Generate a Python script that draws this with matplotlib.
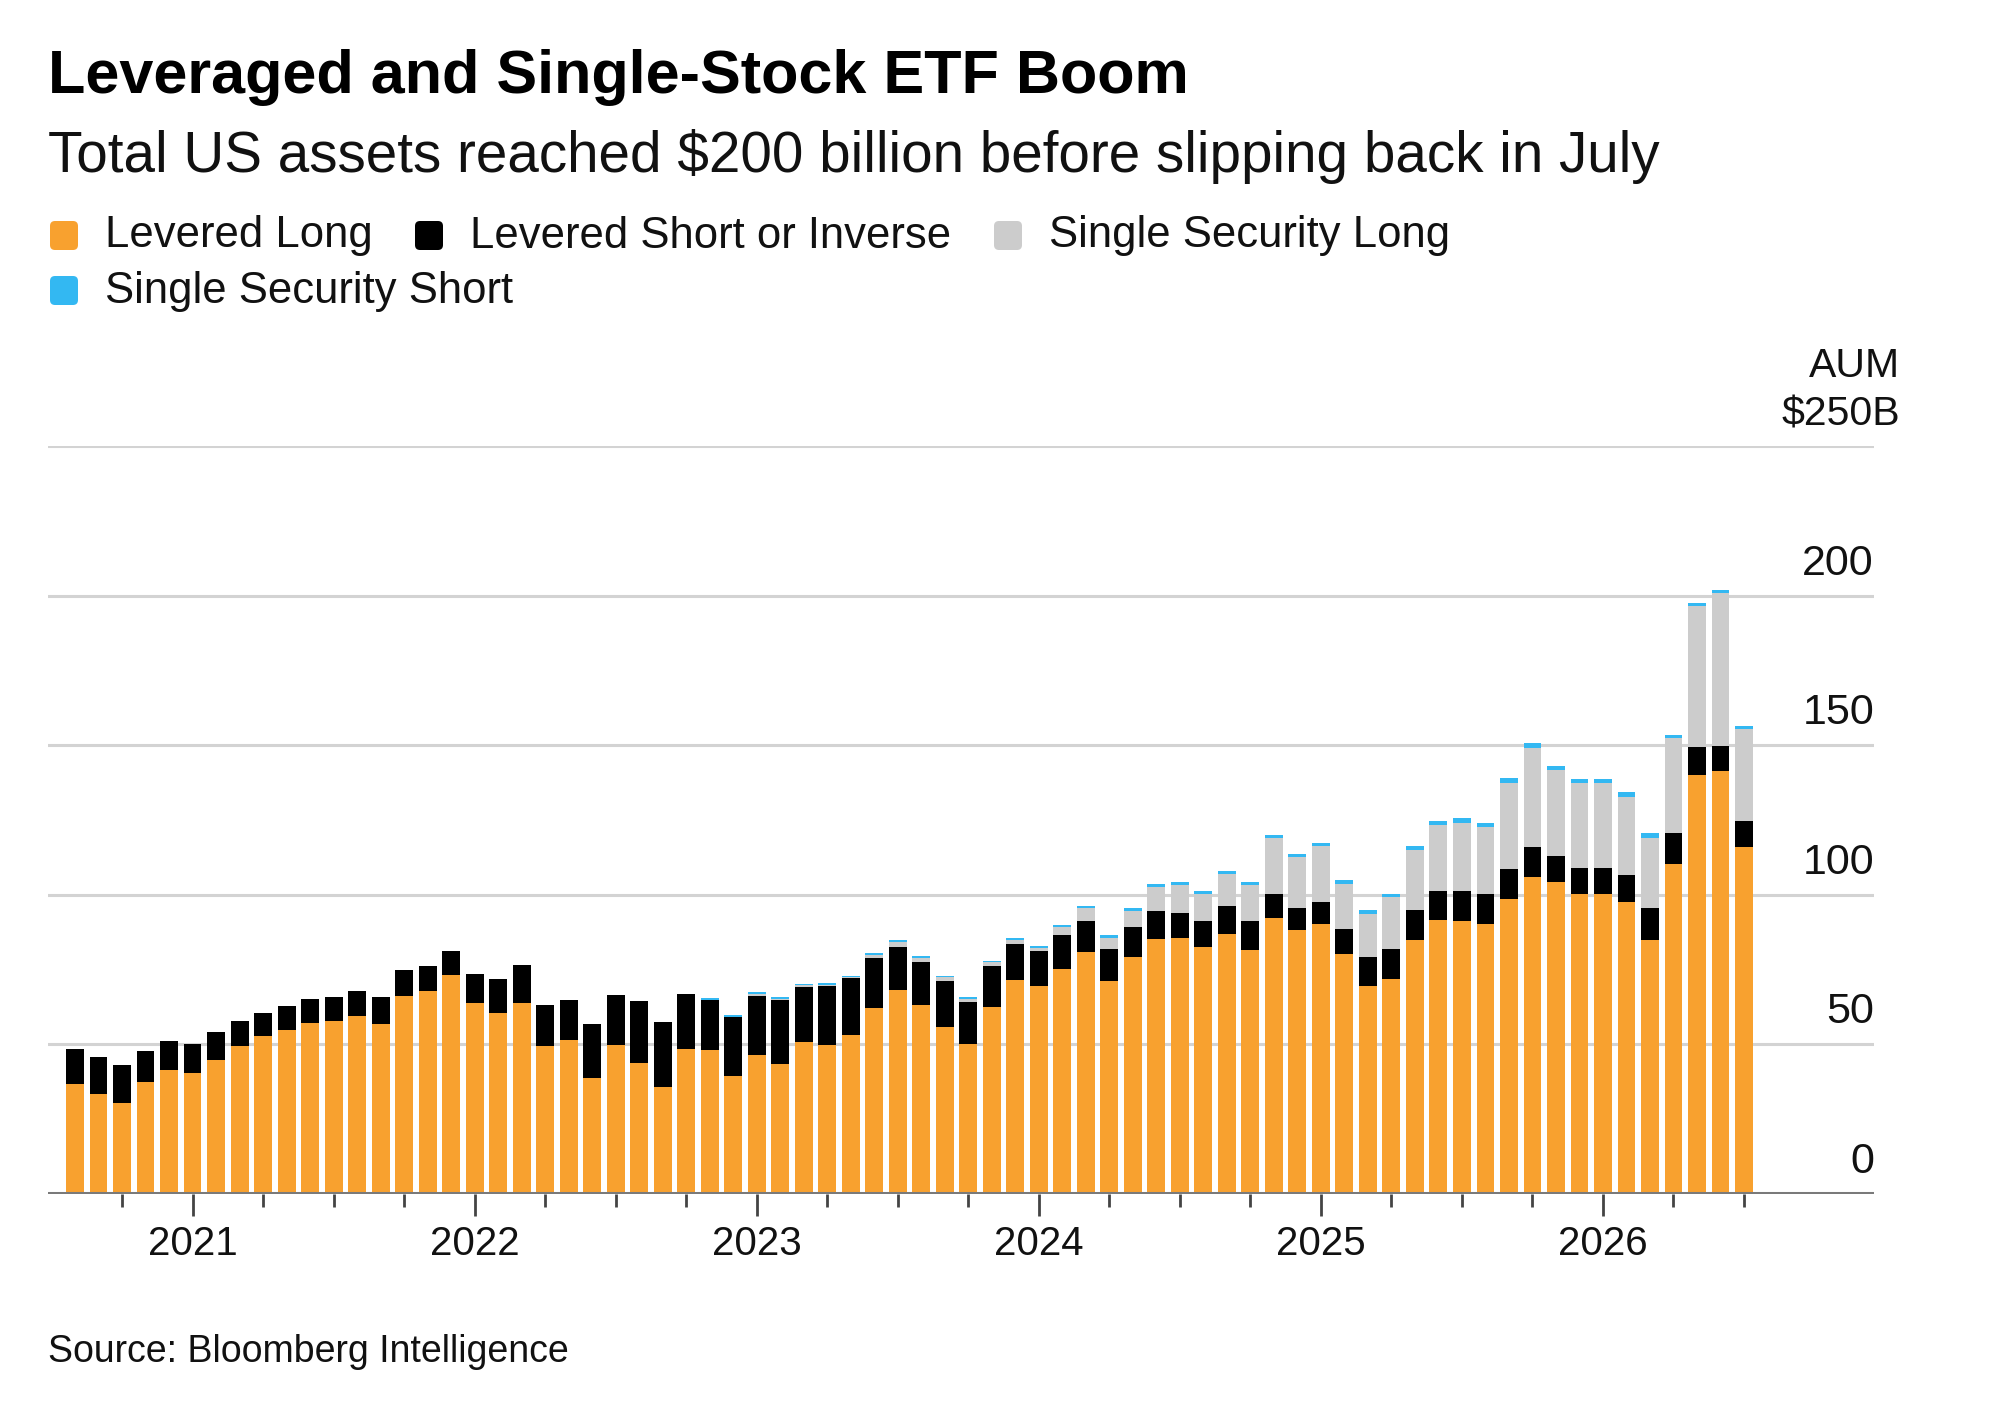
import matplotlib
matplotlib.use("Agg")
import matplotlib.pyplot as plt
import matplotlib.transforms as mtransforms
from matplotlib.patches import FancyBboxPatch
import numpy as np
import pandas as pd

plt.rcParams['font.family'] = ['Liberation Sans', 'DejaVu Sans']

# monthly AUM, $B, Aug 2020 .. Jul 2026
months = pd.date_range('2020-08-01', periods=72, freq='MS')

levered_long = [
    36.7, 33.4, 30.5, 37.6, 41.4, 40.3, 44.8, 49.5, 52.9, 54.7,
    57.2, 57.8, 59.6, 56.7, 66.3, 67.9, 73.3, 63.8, 60.6, 64.0,
    49.4, 51.4, 38.7, 49.7, 43.8, 35.6, 48.6, 48.1, 39.6, 46.4,
    43.5, 50.8, 49.7, 53.3, 62.3, 68.3, 63.2, 55.8, 50.2, 62.6,
    71.5, 69.6, 75.3, 80.9, 71.1, 79.2, 85.1, 85.6, 82.4, 87.0,
    81.7, 92.2, 88.4, 90.1, 80.2, 69.6, 72.0, 85.0, 91.6, 91.2,
    90.2, 98.6, 105.8, 104.2, 100.4, 100.4, 97.6, 85.0, 110.2, 140.2,
    141.4, 116.0,
]
levered_short = [
    11.9, 12.4, 12.7, 10.1, 9.7, 10.0, 9.4, 8.3, 7.6, 8.3,
    7.9, 8.1, 8.3, 9.2, 8.6, 8.4, 7.9, 9.8, 11.3, 12.7,
    13.8, 13.4, 18.2, 16.9, 20.8, 22.0, 18.4, 16.7, 19.6, 19.9,
    21.4, 18.3, 19.9, 18.9, 16.6, 14.2, 14.5, 15.5, 14.1, 13.5,
    12.2, 11.5, 11.1, 10.2, 10.7, 10.0, 9.5, 8.4, 8.7, 9.4,
    9.4, 8.0, 7.3, 7.5, 8.4, 9.6, 10.0, 9.8, 9.7, 10.1,
    10.2, 10.0, 10.2, 8.9, 8.4, 8.6, 9.0, 10.6, 10.4, 9.2,
    8.4, 8.5,
]
single_long = [0.0] * 27 + [
    0.2, 0.1, 0.6,
    0.4, 0.6, 0.4, 0.4, 1.0, 1.6, 1.1, 1.1, 0.9, 1.3,
    1.3, 1.1, 2.8, 4.4, 3.8, 5.5, 8.1, 9.2, 9.3, 10.7,
    12.3, 18.8, 17.0, 18.7, 15.0, 14.4, 17.4, 20.2, 21.9, 22.7,
    22.2, 28.6, 33.2, 28.6, 28.4, 28.2, 26.1, 23.4, 31.9, 47.2,
    51.1, 31.0,
]
single_short = [0.0] * 27 + [
    0.4, 0.4, 0.5,
    0.4, 0.5, 0.4, 0.4, 0.6, 0.7, 0.6, 0.6, 0.5, 0.6,
    0.7, 0.7, 0.8, 0.9, 0.8, 0.9, 1.0, 1.0, 1.0, 1.0,
    1.0, 1.0, 1.0, 1.0, 1.2, 1.2, 1.0, 1.4, 1.4, 1.8,
    1.4, 1.8, 1.6, 1.5, 1.6, 1.6, 1.5, 1.5, 1.0, 0.9,
    0.9, 0.8,
]

series_names = ['Levered Long', 'Levered Short or Inverse',
                'Single Security Long', 'Single Security Short']
colors = ['#F8A12F', '#000000', '#CCCCCC', '#33B8F2']
y_ticks = [0, 50, 100, 150, 200]

W, H = 2000, 1416
fig = plt.figure(figsize=(W / 100, H / 100), dpi=100)
ax = fig.add_axes([48 / W, 222 / H, 1826 / W, 748 / H])

x = np.arange(len(months))
bottom = np.zeros(len(months))
for vals, col in zip([levered_long, levered_short, single_long, single_short], colors):
    vals = np.array(vals)
    ax.bar(x, vals, width=0.76, bottom=bottom, color=col, linewidth=0, zorder=2)
    bottom += vals

ax.set_xlim(-1.15, 76.53)
ax.set_ylim(0, 250)

# gridlines
for v in y_ticks[1:] + [250]:
    ax.axhline(v, color='#D3D3D3', lw=2.2, zorder=1)
ax.axhline(0, color='#7A7A7A', lw=2.9, zorder=3)

for s in ax.spines.values():
    s.set_visible(False)
ax.set_yticks([])

# quarterly ticks, longer on January
quarter = [i for i, m in enumerate(months) if m.month in (1, 4, 7, 10)]
jan = [i for i, m in enumerate(months) if m.month == 1]
ax.set_xticks([i for i in quarter if i not in jan], minor=True)
ax.set_xticks(jan)
ax.set_xticklabels([])
ax.tick_params(axis='x', which='major', length=16, width=2, color='#444444', direction='out')
ax.tick_params(axis='x', which='minor', length=9, width=2, color='#444444', direction='out')

for i in jan:
    ax.text(i, -0.0816, str(months[i].year), transform=ax.get_xaxis_transform(),
            ha='center', va='baseline', fontsize=29, color='#111111')

# y labels sitting above gridlines on the right
off = mtransforms.ScaledTranslation(0, 0.21, fig.dpi_scale_trans)
ytr = ax.get_yaxis_transform() + off
for v in y_ticks:
    ax.text(1.0, v, str(v), transform=ytr, ha='right', va='baseline',
            fontsize=31, color='#111111')
ax.text(1.0142, 250, '$250B', transform=ytr, ha='right', va='baseline',
        fontsize=29.5, color='#111111')
ax.text(1.0142, 250, 'AUM', transform=ytr + mtransforms.ScaledTranslation(0, 0.483, fig.dpi_scale_trans),
        ha='right', va='baseline', fontsize=29.5, color='#111111')

# titles
fig.text(48 / W, 1 - 92.7 / H, 'Leveraged and Single-Stock ETF Boom',
         fontsize=44, fontweight='bold', ha='left', va='baseline', color='#000000')
fig.text(48 / W, 1 - 171.7 / H,
         'Total US assets reached $200 billion before slipping back in July',
         fontsize=40.8, ha='left', va='baseline', color='#111111')

# legend
legend_pos = [(50, 221, 247.5), (415, 221, 247.5), (994, 221, 247.5), (50, 276, 302.7)]
for (lx, sq_top, base), name, col in zip(legend_pos, series_names, colors):
    box = FancyBboxPatch((lx, H - sq_top - 29), 28, 29,
                         boxstyle='round,pad=0,rounding_size=5',
                         transform=mtransforms.IdentityTransform(),
                         facecolor=col, edgecolor='none')
    fig.add_artist(box)
    fig.text((lx + 55) / W, 1 - base / H, name, fontsize=31.4,
             ha='left', va='baseline', color='#111111')

fig.text(48 / W, 1 - 1361.7 / H, 'Source: Bloomberg Intelligence',
         fontsize=27, ha='left', va='baseline', color='#111111')

fig.savefig('out.png', dpi=100)
